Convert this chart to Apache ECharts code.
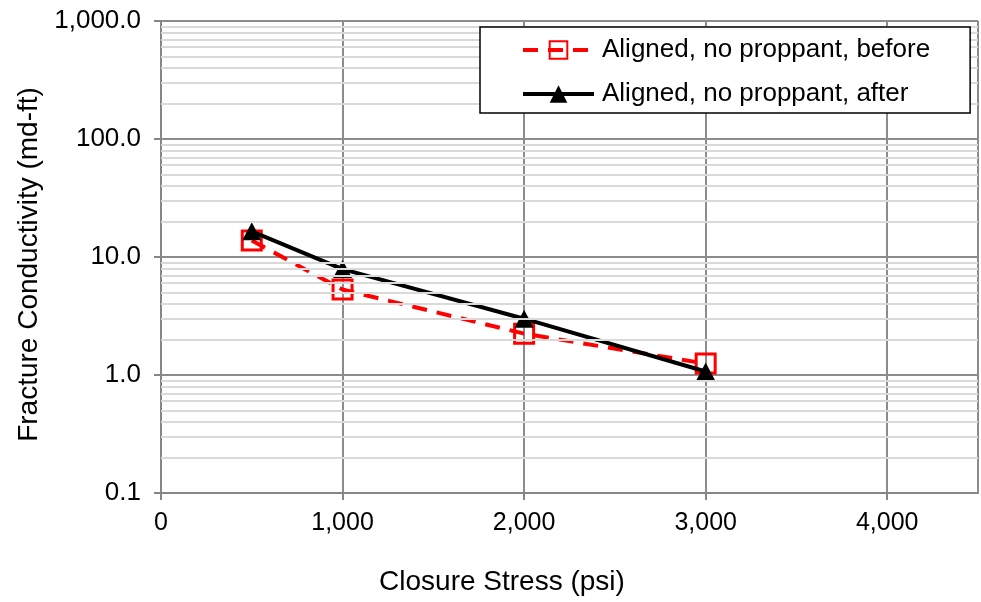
<!DOCTYPE html>
<html>
<head>
<meta charset="utf-8">
<script src="https://cdn.jsdelivr.net/npm/echarts@6/dist/echarts.min.js"></script>
<style>
  html, body { margin: 0; padding: 0; background: #fff; }
  #chart { width: 981px; height: 602px; }
</style>
</head>
<body>
<div id="chart"></div>
<script>
// Closure stress (psi) at which conductivity was measured
var closureStress = [500, 1000, 2000, 3000];
// Fracture conductivity (md-ft)
var conductivityBefore = [13.8, 5.3, 2.24, 1.25];
var conductivityAfter = [16.5, 7.9, 3.0, 1.07];

var seriesNames = ['Aligned, no proppant, before', 'Aligned, no proppant, after'];
var xTicks = [0, 1000, 2000, 3000, 4000];
var yTicks = [0.1, 1, 10, 100, 1000];

var FONT = '"Liberation Sans", Arial, sans-serif';

// light minor grid lines at 2..9 within each decade of the log axis
var minorLines = [];
for (var d = 0; d < yTicks.length - 1; d++) {
  for (var m = 2; m <= 9; m++) {
    minorLines.push({ yAxis: +(yTicks[d] * m).toPrecision(3) });
  }
}

function pairs(xs, ys) {
  return xs.map(function (x, i) { return [x, ys[i]]; });
}

var chart = echarts.init(document.getElementById('chart'), null, { renderer: 'canvas' });

chart.setOption({
  animation: false,
  backgroundColor: '#fff',
  grid: { left: 161, right: 3, top: 21, bottom: 109, containLabel: false },
  legend: {
    data: seriesNames,
    orient: 'vertical',
    left: 480,
    top: 27,
    z: 20,
    padding: [10, 40, 6, 41],
    itemGap: 18,
    itemWidth: 71,
    itemHeight: 22,
    backgroundColor: '#fff',
    borderColor: '#000',
    borderWidth: 1.5,
    lineStyle: { width: 4 },
    textStyle: { fontFamily: FONT, fontSize: 26, color: '#000', lineHeight: 26, padding: [0, 0, 0, 3] }
  },
  xAxis: {
    type: 'value',
    min: 0,
    max: 4500,
    interval: 1000,
    name: 'Closure Stress (psi)',
    nameLocation: 'middle',
    nameGap: 75,
    nameTextStyle: { fontFamily: FONT, fontSize: 28, color: '#000', padding: [0, 135, 0, 0] },
    axisLine: { show: true, lineStyle: { color: '#868686', width: 2 } },
    axisTick: { show: true, length: 7, lineStyle: { color: '#868686', width: 2 } },
    axisLabel: {
      fontFamily: FONT, fontSize: 25, color: '#000', margin: 18, showMaxLabel: false,
      formatter: function (v) { return xTicks.indexOf(v) >= 0 ? v.toLocaleString('en-US') : ''; }
    },
    splitLine: { show: true, lineStyle: { color: '#8c8c8c', width: 2 } }
  },
  yAxis: {
    type: 'log',
    logBase: 10,
    min: 0.1,
    max: 1000,
    name: 'Fracture Conductivity (md-ft)',
    nameLocation: 'middle',
    nameGap: 114,
    nameRotate: 90,
    nameTextStyle: { fontFamily: FONT, fontSize: 28, color: '#000', padding: [0, 15, 0, 0] },
    axisLine: { show: true, lineStyle: { color: '#868686', width: 2 } },
    axisTick: { show: true, length: 7, lineStyle: { color: '#868686', width: 2 } },
    axisLabel: {
      fontFamily: FONT, fontSize: 26, color: '#000', margin: 20,
      formatter: function (v) {
        return Number(v).toLocaleString('en-US', { minimumFractionDigits: 1, maximumFractionDigits: 1 });
      }
    },
    splitLine: { show: true, lineStyle: { color: '#8c8c8c', width: 2 } }
  },
  series: [
    {
      name: 'minor-grid',
      type: 'line',
      data: [],
      silent: true,
      z: 1,
      markLine: {
        silent: true,
        symbol: 'none',
        label: { show: false },
        lineStyle: { color: '#d9d9d9', width: 2, type: 'solid' },
        emphasis: { disabled: true },
        data: minorLines
      }
    },
    {
      name: seriesNames[0],
      type: 'line',
      data: pairs(closureStress, conductivityBefore),
      z: 3,
      symbol: 'rect',
      symbolSize: 19,
      lineStyle: { color: '#ff0000', width: 4, type: [15, 10] },
      itemStyle: { color: 'rgba(255,255,255,0)', borderColor: '#ff0000', borderWidth: 3 }
    },
    {
      name: seriesNames[1],
      type: 'line',
      data: pairs(closureStress, conductivityAfter),
      z: 4,
      symbol: 'triangle',
      symbolSize: [19, 18],
      lineStyle: { color: '#000', width: 4 },
      itemStyle: { color: '#000' }
    }
  ]
});
</script>
</body>
</html>
